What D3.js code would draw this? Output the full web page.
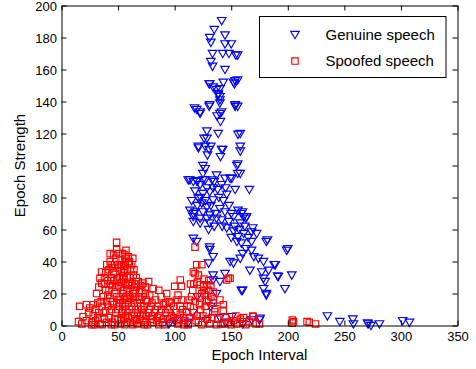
<!DOCTYPE html>
<html>
<head>
<meta charset="utf-8">
<script src="https://cdn.jsdelivr.net/npm/d3@7"></script>
<style>
html,body{margin:0;padding:0;background:#fff;}
svg{display:block;font-family:"Liberation Sans",Arial,Helvetica,sans-serif;}
</style>
</head>
<body>
<svg id="chart" width="476" height="369"></svg>
<script>
// ---- data ----
const xTicks = [0, 50, 100, 150, 200, 250, 300, 350];
const yTicks = [0, 20, 40, 60, 80, 100, 120, 140, 160, 180, 200];
const seriesNames = ["Genuine speech", "Spoofed speech"];

const genuine = [
[141.6,190.5],[135,185],[131,180],[132,177],[144.5,181.5],[144.5,176],[150,176],[142.5,170],[148,170],[154,169],
[133.5,170],[132,165],[133.5,162],[144.5,160],[130.5,151],[134,149],[137,147.5],[140,148],[143,152],[152,152],
[153,151],[155.7,153.5],[155.7,169],[138.5,144],[140,141],[140,139],[130.5,137],[117.5,136],[119.5,135],[122.5,132.5],
[153.5,137],[155.7,137],[140,132.5],[137.5,131],[140.5,127.5],[128.5,121.5],[126,117],[138.5,120],[121,112],[127,112],
[132,112],[142.5,110],[129,106.5],[140.5,105.5],[156,119.5],[158,112],[158,120],[155,100],[125,100],[127,98],
[125,95],[137,94],[112,91],[116.5,90],[120,90],[125,91],[144.5,92],[149,92],[155.7,101],[155.7,95],
[131,138],[153.5,138],[122.5,133.5],[141.5,133.5],[138.5,145],[140,143],[153.5,153],[131,151],[158,109],[128.5,117],
[130.5,110],[141.5,110],[121,111],[150.5,92],[133,91],[127,91],[113.5,91],[119.5,90.5],[158,95],
[122.5,88],[128.5,86],[134,86],[141.5,88],[153.5,85],[166,85],[125,82.5],[131,83.5],[121,79.5],[134,78.5],
[124,76.5],[128.5,74],[113.5,72],[118,71],[125,71],[140,73],[144.5,71],[156,72],[159,70],[163.5,68],
[116.5,68],[128.5,67],[137,67],[160,71],[163,67],[169,61],[116.5,70],[122.5,67],[131,69],[116.5,65],
[122.5,64],[131,64],[141.5,66],[152,68],[161,68],[146,61],[152,59],[156,55.5],[161,57.5],[168,58.5],
[172.5,57.5],[155,52.5],[159,51.5],[168,52.5],[181,52.5],[182,53.5],[199,47],[200,48],
[118,84],[123,80],[127,78],[132,75],[136,70],[139,80],[143,78],[146,82],[148,75],[150,70],
[135,90],[138,85],[145,86],[120,75],[115,78],[130,60],[135,62],[148,65],[153,62],[157,60],
[162,62],[165,55],[158,64],[142,62],[150,55],[163,48],[160,45],
[116.5,54.5],[119.5,52.5],[131,49],[131,47.5],[168,47],[170,43],[174,42],[178.5,40],[134,43],[130,39],
[149,40],[152,39],[158,42],[166.5,34.5],[177,33.5],[183,34.5],[189,38],[188,38],[191.5,30.5],[191,31],
[203.5,31.5],[134,31.5],[144.5,32.5],[134,28.5],[140,27.5],[178.5,29.5],[180,27.5],[159,22],[160,22],
[178.5,23],[181,19],[181,20],[197.5,23],[150.5,5.5],[175.5,4.5],[168,3.5],[175,3.5],
[116,8],[128,3],[132,12],[120,18],[137,20],[112,2],[140,5],[145,2],[160,1],[100,3],[95,1],
[235,6],[246,2.5],[257.5,4],[258,1],[270.5,1.5],[273.5,0],[281,1],[301.5,3],[307.5,2],[271,1]
];

const spoofed = [
[15,2.5],[19,5.5],[16,12],[22,13],[28,13],[26.5,0.5],[22,3],[24,8],[28,6],[30,10],[27,2],[18,1],[25,11],[30,3],[32,14],[29,0.5],
[31,20],[34,29.5],[35.5,26.5],[35.5,33.5],[33,8],[36,12],[38,4],[34,1],[37,18],[39,22],[40,38],[38,30],[32,5],[36,0.5],[39,9],[40,15],[38,26],[33,24],[40,2],
[43,17],[46,13],[46,44],[48.7,52],[48.7,47.5],[42,35],[44,30],[45,25],[47,38],[43,40],[41,28],[42,22],[44,10],[42,5],[45,2],
[48,8],[47,20],[49,29],[46,33],[48,42],[50,36],[50,25],[49,14],[50,4],[41,12],[44,0.5],[47,0.5],[43,45],[45,36],[49,18],
[52,41],[56,44],[54,45],[57,42],[55,38],[58,35],[53,34],[51,30],[55,29],[57,26],[52,24],[54,20],[56,17],[58,22],[51,12],
[53,8],[55,4],[57,10],[59,14],[52,1],[56,0.5],[59,5],[58,30],[60,40],[54,31],[56,35],[53,38],[57,47],[59,43],[51,18],
[60,27],[60,19],[58,2],[54,14],
[63.5,31.5],[68,27.5],[69,21],[61,35],[62,25],[64,22],[66,30],[65,18],[67,14],[62,12],[64,8],[66,4],[68,10],[70,6],
[61,2],[63,0.5],[67,1],[69,16],[62,38],[65,26],[70,25],[61,17],[63,42],
[72,26.5],[77,27.5],[81,23],[71,18],[74,20],[76,15],[73,12],[78,10],[75,6],[72,3],[79,4],[76,0.5],[80,14],[74,24],[71,10],[78,19],[73,0.5],
[90,13],[99,12],[82,8],[85,12],[84,3],[87,6],[88,18],[86,22],[83,16],[92,8],[94,4],[96,10],[98,2],[91,0.5],[89,2],[95,15],[93,20],[86,0.5],[97,6],
[100,24.5],[105,28.5],[106,24.5],[102,16],[101,8],[104,4],[107,10],[103,1],[108,0.5],[110.5,8.5],[109,3],[105,12],[103,19],[106,16],
[115,18],[118,49],[119.5,38],[116.5,33.5],[118,32.5],[113,5],[112,1],[117,8],[114,12],[119,3],[116,22],[118,15],[120,27],[112,0.5],[117,26],
[124,38],[121,31.5],[122.5,25.5],[128.5,25.5],[125.5,24.5],[134,21],[122.5,18],[128.5,15],[130,16],[135.5,8.5],[135.5,10.5],
[124,20],[126,22],[130,22],[132,18],[127,12],[123,10],[125,6],[129,4],[131,1],[121,2],[133,5],[126,29],[130,28],[127,19],
[132,25],[122,13],[134,14],[124,0.5],[128,8],[120,6],
[140,16],[143,13],[143,9.5],[146,28.5],[149,29.5],[147.5,29.5],[138,4],[141,1],[145,5],[148,2],[150,0.5],[152,3],[155,1],
[158,4],[160,2.5],[163,0.5],[166,2.5],[169,6],[169.5,5.5],[172,1],[137,0.5],[144,1],[154,6],[161,5],[175,1],
[204,3.5],[204,1.5],[205,2.5],[219,2],[217,2.5],[224.5,1],
[35,15],[37,8],[39,33],[41,19],[43,26],[44,38],[45,15],[46,28],[47,4],[48,24],[50,10],[50,45],[51,38],[52,16],[53,27],
[53,3],[54,9],[55,22],[55,33],[56,40],[56,12],[57,6],[58,18],[59,39],[59,25],[60,10],[61,30],[62,6],[63,20],[64,14],
[64,35],[65,3],[66,24],[67,8],[68,18],[69,4],[70,12],[71,22],[72,7],[74,2],[75,16],[77,8],[79,12],[80,6],[81,2],
[83,10],[85,5],[88,10],[90,4],[92,14],[94,10],[97,14],[99,5],[102,3],[105,7],[108,5],[111,12],[113,16],[114,26]
];

// ---- layout ----
const svg = d3.select("#chart");
const L = 61.5, R = 457.5, T = 5.5, B = 325.5;
const x = d3.scaleLinear().domain([0, 350]).range([L, R]);
const y = d3.scaleLinear().domain([0, 200]).range([B, T]);
const blue = "#0000ff", red = "#ff0000";

const triPath = "M-4.3,-3.2L4.3,-3.2L0,4.2Z";
const sqPath = "M-3.2,-3.2L3.2,-3.2L3.2,3.2L-3.2,3.2Z";

svg.append("rect").attr("x", L).attr("y", T).attr("width", R - L).attr("height", B - T).attr("fill", "#fff");

// points
svg.append("g").selectAll("path").data(genuine).join("path")
  .attr("d", triPath)
  .attr("transform", d => `translate(${x(d[0])},${y(d[1])})`)
  .attr("fill", "none").attr("stroke", blue).attr("stroke-width", 1.15);

svg.append("g").selectAll("path").data(spoofed).join("path")
  .attr("d", sqPath)
  .attr("transform", d => `translate(${x(d[0])},${y(d[1])})`)
  .attr("fill", "none").attr("stroke", red).attr("stroke-width", 1.15);

// axes
const fs = "13px";
const gx = svg.append("g").attr("transform", `translate(0,${B})`)
  .call(d3.axisBottom(x).tickValues(xTicks).tickSizeInner(-5).tickSizeOuter(0).tickPadding(6.5));
const gy = svg.append("g").attr("transform", `translate(${L},0)`)
  .call(d3.axisLeft(y).tickValues(yTicks).tickSizeInner(-5).tickSizeOuter(0).tickPadding(4.5));
const gt = svg.append("g").attr("transform", `translate(0,${T})`)
  .call(d3.axisTop(x).tickValues(xTicks).tickSizeInner(-5).tickSizeOuter(0).tickFormat(""));
const gr = svg.append("g").attr("transform", `translate(${R},0)`)
  .call(d3.axisRight(y).tickValues(yTicks).tickSizeInner(-5).tickSizeOuter(0).tickFormat(""));
[gx, gy, gt, gr].forEach(g => {
  g.selectAll("path.domain").attr("stroke", "#000").attr("stroke-width", 1);
  g.selectAll(".tick line").attr("stroke", "#000").attr("stroke-width", 1);
  g.selectAll("text").attr("font-size", fs).attr("fill", "#000")
    .attr("font-family", '"Liberation Sans",Arial,sans-serif');
});
gy.selectAll("text").attr("dy", "0.36em");

// axis labels
svg.append("text").attr("x", (L + R) / 2).attr("y", 360).attr("text-anchor", "middle")
  .attr("font-size", "15px").attr("fill", "#000").text("Epoch Interval");
svg.append("text").attr("transform", `translate(25,${(T + B) / 2}) rotate(-90)`)
  .attr("text-anchor", "middle").attr("font-size", "15px").attr("fill", "#000").text("Epoch Strength");

// legend
const lg = svg.append("g");
lg.append("rect").attr("x", 259.5).attr("y", 16.5).attr("width", 186.5).attr("height", 61)
  .attr("fill", "#fff").attr("stroke", "#000").attr("stroke-width", 1);
const items = [
  {name: seriesNames[0], d: triPath, c: blue, yy: 34.5},
  {name: seriesNames[1], d: sqPath, c: red, yy: 61}
];
items.forEach(it => {
  lg.append("path").attr("d", it.d).attr("transform", `translate(295,${it.yy})`)
    .attr("fill", "none").attr("stroke", it.c).attr("stroke-width", 1.15);
  lg.append("text").attr("x", 325.5).attr("y", it.yy + 5).attr("font-size", "15px")
    .attr("fill", "#000").text(it.name);
});
</script>
</body>
</html>
